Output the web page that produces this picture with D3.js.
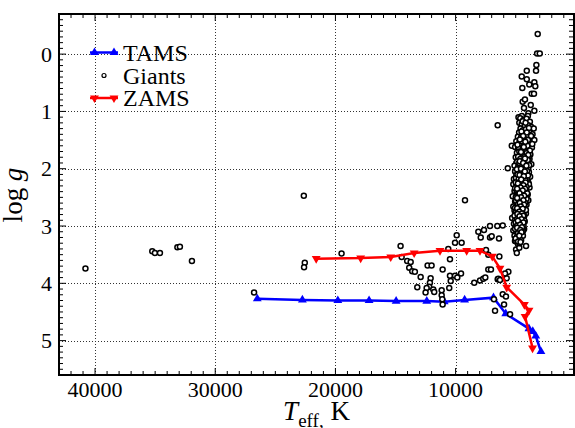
<!DOCTYPE html>
<html>
<head>
<meta charset="utf-8">
<script src="https://cdn.jsdelivr.net/npm/d3@7"></script>
<style>
  html, body { margin: 0; background: #fff; }
  svg { display: block; }
  svg text { font-family: "Liberation Serif", "Times New Roman", "Nimbus Roman", serif; }
</style>
</head>
<body>
<svg id="chart" width="575" height="428" font-family="Liberation Serif, Times New Roman, serif"></svg>
<script>
// TAMS track (Teff in K, log g)
const tamsTeff = [26500, 22750, 19800, 17200, 14950, 12400, 10950, 9250, 6850, 5830, 3900, 3580, 3330, 2900];
const tamsLogg = [4.27, 4.29, 4.30, 4.30, 4.31, 4.31, 4.32, 4.29, 4.25, 4.53, 4.79, 4.84, 4.92, 5.19];

// ZAMS track
const zamsTeff = [21600, 17900, 15400, 13450, 11300, 9080, 7970, 6950, 6310, 5750, 4280, 3890, 4220, 3600];
const zamsLogg = [3.57, 3.56, 3.54, 3.47, 3.43, 3.43, 3.43, 3.53, 3.74, 4.07, 4.37, 4.47, 4.58, 5.13];

// Giants [Teff, log g]
const giants = [
  // hot / isolated stars
  [40800, 3.74], [35240, 3.44], [35020, 3.47], [34600, 3.47], [33150, 3.37], [32940, 3.36],
  [31940, 3.61], [26770, 4.16], [22630, 2.47], [22550, 3.64], [22610, 3.72], [19490, 3.48],
  // intermediate region
  [14580, 3.35], [14490, 3.54], [14030, 3.61], [13740, 3.63], [13860, 3.73], [13610, 3.79],
  [13390, 3.80], [12330, 3.69], [12000, 3.69], [11080, 3.76], [10470, 3.58], [12910, 3.89],
  [12080, 3.91], [12140, 3.99], [12200, 4.06], [12410, 4.08], [13190, 4.07], [11860, 4.11],
  [12500, 4.16], [11780, 4.15], [11160, 4.12], [11160, 4.21], [11110, 4.28], [11080, 4.37],
  [10470, 3.87], [10050, 3.87], [9550, 3.83], [10410, 3.96], [10530, 4.08], [9860, 3.90],
  [8450, 3.99], [7970, 3.95], [7700, 3.92], [7530, 3.90], [7280, 3.76], [7060, 3.76],
  [7470, 3.42], [7280, 3.50], [6500, 3.93], [6390, 3.93], [6080, 4.19], [5810, 4.23],
  [5970, 4.37], [5470, 4.54], [6720, 4.48], [5610, 3.80], [5750, 3.91], [9220, 2.55],
  [6530, 3.00], [6080, 2.99], [8110, 3.10], [7640, 3.07], [7910, 3.20], [7140, 3.20],
  [6390, 3.22], [9910, 3.16], [10050, 3.29], [9500, 3.29], [10610, 3.40], [5060, 3.26],
  [4140, 3.35], [4970, 3.41], [4910, 3.47], [6360, 3.53], [5890, 3.83], [6450, 3.92],
  [6310, 3.94], [6810, 4.28], [7140, 3.00], [7000, 3.18], [5330, 1.60], [5660, 1.99],
  [6500, 1.24],
  // top of the giant branch
  [3170, -0.35], [3220, -0.01], [3000, -0.01], [3280, 0.19], [3310, 0.29], [4080, 0.29],
  [4500, 0.39], [4080, 0.44], [4450, 0.59], [3870, 0.53], [3450, 0.49], [3370, 0.56],
  [3670, 0.69], [3480, 0.69], [4420, 0.83], [4230, 0.79], [3750, 0.89], [4310, 0.94],
  [3450, 0.99], [3950, 1.03], [4770, 1.10], [4490, 1.08], [3990, 1.08],
  // dense branch
  [4620, 1.12], [4350, 1.15], [4100, 1.13], [3820, 1.18], [4700, 1.20], [4500, 1.22],
  [4250, 1.25], [3950, 1.24], [3700, 1.27], [3500, 1.30], [4600, 1.30], [4400, 1.33],
  [4150, 1.31], [3880, 1.35], [4720, 1.37], [4300, 1.38], [3600, 1.40], [4050, 1.42],
  [4820, 1.44], [4550, 1.45], [3760, 1.46], [4250, 1.48], [3450, 1.50], [4950, 1.52],
  [4680, 1.53], [4100, 1.55], [3880, 1.56], [4480, 1.58], [4300, 1.60], [5050, 1.62],
  [3650, 1.63], [4800, 1.65], [4050, 1.66], [4550, 1.68], [3950, 1.70], [4900, 1.72],
  [4350, 1.73], [3780, 1.75], [4650, 1.77], [4150, 1.78], [5000, 1.80], [4450, 1.81],
  [3850, 1.83], [4750, 1.85], [4250, 1.86], [4050, 1.88], [4950, 1.90], [4550, 1.91],
  [3700, 1.92], [4350, 1.94], [5100, 1.95], [4800, 1.97], [4150, 1.98], [3950, 2.00],
  [4600, 2.02], [4400, 2.03], [5050, 2.05], [3900, 2.06], [4750, 2.08], [4200, 2.09],
  [4950, 2.11], [4500, 2.12], [3800, 2.14], [4650, 2.15], [4300, 2.17], [5150, 2.18],
  [4050, 2.19], [4850, 2.21], [4450, 2.22], [3950, 2.24], [4700, 2.25], [5200, 2.27],
  [4250, 2.28], [4550, 2.30], [4950, 2.31], [3850, 2.33], [4400, 2.34], [4750, 2.36],
  [4150, 2.37], [5100, 2.39], [4600, 2.40], [4300, 2.42], [4900, 2.43], [4000, 2.45],
  [4500, 2.46], [5250, 2.48], [4700, 2.49], [4200, 2.51], [4850, 2.52], [4450, 2.54],
  [3950, 2.55], [5050, 2.57], [4650, 2.58], [4350, 2.60], [4950, 2.61], [4100, 2.63],
  [4750, 2.64], [5200, 2.66], [4500, 2.67], [4250, 2.69], [4900, 2.70], [4650, 2.72],
  [5100, 2.73], [4400, 2.75], [4800, 2.76], [4150, 2.78], [5000, 2.79], [4550, 2.81],
  [4300, 2.83], [4850, 2.84], [5300, 2.86], [4700, 2.87], [4450, 2.89], [5050, 2.90],
  [4250, 2.92], [4900, 2.93], [4600, 2.95], [5150, 2.96], [4400, 2.98], [4750, 2.99],
  [5000, 3.01], [4550, 3.03], [4300, 3.05], [4850, 3.06], [5200, 3.08], [4650, 3.10],
  [4450, 3.12], [4950, 3.13], [4750, 3.15], [5100, 3.17], [4550, 3.19], [4850, 3.21],
  [4650, 3.24], [4950, 3.27], [4800, 3.32], [4700, 3.38],
  [4480, 1.52], [4020, 1.60], [4720, 1.64], [4270, 1.70], [4580, 1.76], [3920, 1.79],
  [4380, 1.84], [4880, 1.88], [4180, 1.92], [4620, 1.96], [4320, 2.01], [4780, 2.05],
  [4080, 2.10], [4560, 2.14], [4980, 2.16], [4380, 2.20], [4120, 2.26], [4820, 2.29],
  [4280, 2.32], [4620, 2.35], [4920, 2.38], [4460, 2.41], [4160, 2.44], [4820, 2.46],
  [4340, 2.50], [4620, 2.53], [4980, 2.56], [4280, 2.57], [4540, 2.62], [4880, 2.65],
  [4360, 2.66], [4640, 2.70], [4980, 2.74], [4260, 2.74], [4560, 2.77], [4920, 2.81],
  [4640, 2.85], [4380, 2.86], [4760, 2.90], [4520, 2.93], [4820, 2.97], [4580, 3.00],
  [4380, 3.08], [4780, 3.10], [4580, 3.15], [4880, 3.18], [4680, 3.30],
  [4420, 1.17], [4180, 1.20], [3900, 1.29], [4520, 1.35], [4080, 1.37], [3720, 1.43],
  [4380, 1.43], [4650, 1.49], [3980, 1.50], [4200, 1.53], [3620, 1.57], [4850, 1.58],
  [4400, 1.64], [3820, 1.68], [4700, 1.70], [4120, 1.73], [4480, 1.74], [3960, 1.76],
  [4800, 1.79], [4300, 1.80], [4620, 1.83], [4000, 1.85], [4450, 1.87], [4700, 1.90],
  [3880, 1.94], [4500, 1.97], [4250, 1.99], [4900, 2.01], [4060, 2.04], [4500, 2.06],
  [4300, 2.07], [4850, 2.10], [3980, 2.12], [4400, 2.15], [4750, 2.18], [4200, 2.20],
  [4600, 2.22], [5000, 2.24], [3900, 2.27], [4450, 2.27], [4700, 2.30], [4100, 2.32],
  [5050, 2.34], [4500, 2.36], [4250, 2.39], [4750, 2.41], [4050, 2.43], [4600, 2.45],
  [4400, 2.48], [5000, 2.50], [4100, 2.53], [4750, 2.55], [4500, 2.58], [4200, 2.60],
  [4800, 2.62], [4450, 2.64], [5050, 2.68], [4700, 2.67], [4350, 2.71], [4850, 2.72],
  [4550, 2.74], [4150, 2.72], [4700, 2.79], [4400, 2.80], [5100, 2.82], [4900, 2.88],
  [4600, 2.89], [4300, 2.90], [5000, 2.94], [4700, 2.96], [4450, 2.95], [4900, 3.00],
  [4350, 3.00], [4700, 3.04], [5050, 3.05], [4500, 3.07], [4800, 3.12], [4600, 3.13],
  [4400, 3.17], [4750, 3.20], [5000, 3.22], [4550, 3.25], [4800, 3.27], [4600, 3.28],
  [4330, 1.62], [4560, 1.71], [4230, 1.82], [4660, 1.87], [4380, 1.90], [4110, 1.95],
  [4560, 2.00], [4240, 2.05], [4680, 2.11], [4330, 2.13], [4540, 2.19], [4180, 2.24],
  [4820, 2.26], [4360, 2.29], [4600, 2.33], [4220, 2.35], [4880, 2.35], [4420, 2.38],
  [4680, 2.43], [4300, 2.47], [4560, 2.50], [4880, 2.51], [4360, 2.55], [4660, 2.60],
  [4300, 2.63], [4580, 2.66], [4880, 2.69], [4420, 2.70], [4700, 2.75], [4480, 2.78],
  [4860, 2.79], [4380, 2.82], [4680, 2.83], [4520, 2.88], [4820, 2.91], [4360, 2.94],
  [4640, 2.98], [4480, 3.02], [4880, 3.03], [4620, 3.07], [4520, 3.11], [4700, 3.17]
];

const xMajor = [40000, 30000, 20000, 10000];
const yMajor = [0, 1, 2, 3, 4, 5];

const width = 575;
const height = 428;
const margin = { left: 59, top: 14, right: 1, bottom: 53 };
const x0 = margin.left, x1 = width - margin.right;
const y0 = margin.top, y1 = height - margin.bottom;

const svg = d3.select("#chart");

const x = d3.scaleLinear().domain([43000, 150]).range([x0, x1]);
const y = d3.scaleLinear().domain([-0.7, 5.6]).range([y0, y1]);

const xMinor = d3.range(1000, 43001, 1000);
const yMinor = d3.range(-7, 57).map(d => d / 10);

// Grid (dotted)
const grid = svg.append("g").attr("stroke", "#333").attr("stroke-width", 1).attr("stroke-dasharray", "1,2");
grid.selectAll("line.gx").data(xMajor).join("line")
  .attr("x1", d => Math.round(x(d)) + 0.5).attr("x2", d => Math.round(x(d)) + 0.5)
  .attr("y1", y0).attr("y2", y1);
grid.selectAll("line.gy").data(yMajor).join("line")
  .attr("x1", x0).attr("x2", x1)
  .attr("y1", d => Math.round(y(d)) + 0.5).attr("y2", d => Math.round(y(d)) + 0.5);

// Ticks on all four sides (inward)
const ticks = svg.append("g").attr("stroke", "#000").attr("stroke-width", 1);
const isMajorX = d => xMajor.includes(d);
const isMajorY = d => yMajor.some(m => Math.abs(m - d) < 1e-6);
ticks.selectAll("line.bx").data(xMinor).join("line")
  .attr("x1", d => x(d)).attr("x2", d => x(d))
  .attr("y1", y1).attr("y2", d => y1 - (isMajorX(d) ? 7 : 4));
ticks.selectAll("line.tx").data(xMinor).join("line")
  .attr("x1", d => x(d)).attr("x2", d => x(d))
  .attr("y1", y0).attr("y2", d => y0 + (isMajorX(d) ? 7 : 4));
ticks.selectAll("line.ly").data(yMinor).join("line")
  .attr("y1", d => y(d)).attr("y2", d => y(d))
  .attr("x1", x0).attr("x2", d => x0 + (isMajorY(d) ? 7 : 4));
ticks.selectAll("line.ry").data(yMinor).join("line")
  .attr("y1", d => y(d)).attr("y2", d => y(d))
  .attr("x1", x1 - 1).attr("x2", d => x1 - 1 - (isMajorY(d) ? 7 : 4));

// Tick labels
svg.append("g").selectAll("text").data(xMajor).join("text")
  .attr("x", d => x(d)).attr("y", 397)
  .attr("text-anchor", "middle").attr("font-size", 22)
  .text(d => d);
svg.append("g").selectAll("text").data(yMajor).join("text")
  .attr("x", 52).attr("y", d => y(d) + 7.5)
  .attr("text-anchor", "end").attr("font-size", 22)
  .text(d => d);

// Axis labels
const xl = svg.append("text").attr("x", (x0 + x1) / 2).attr("y", 420)
  .attr("text-anchor", "middle").attr("font-size", 27);
xl.append("tspan").attr("font-style", "italic").text("T");
xl.append("tspan").attr("font-size", 19).attr("dy", 7).text("eff");
xl.append("tspan").attr("font-size", 19).text(",");
xl.append("tspan").attr("dy", -7).text(" K");

const yl = svg.append("text").attr("transform", "translate(22,195) rotate(-90)")
  .attr("text-anchor", "middle").attr("font-size", 27);
yl.append("tspan").text("log ");
yl.append("tspan").attr("font-style", "italic").text("g");

// Series
const tams = tamsTeff.map((t, i) => [t, tamsLogg[i]]);
const zams = zamsTeff.map((t, i) => [t, zamsLogg[i]]);
const line = d3.line().x(d => x(d[0])).y(d => y(d[1]));
const triUp = d3.symbol().type(d3.symbolTriangle).size(34);

const plot = svg.append("g");

plot.append("path").datum(tams).attr("d", line)
  .attr("fill", "none").attr("stroke", "#0000ff").attr("stroke-width", 2.5);
plot.selectAll("path.tams").data(tams).join("path").attr("class", "tams")
  .attr("d", triUp).attr("fill", "#0000ff")
  .attr("transform", d => `translate(${x(d[0])},${y(d[1])})`);

plot.selectAll("circle").data(giants).join("circle")
  .attr("cx", d => x(d[0])).attr("cy", d => y(d[1])).attr("r", 2.5)
  .attr("fill", "#fff").attr("stroke", "#000").attr("stroke-width", 1.5);

plot.append("path").datum(zams).attr("d", line)
  .attr("fill", "none").attr("stroke", "#ff0000").attr("stroke-width", 2.5);
plot.selectAll("path.zams").data(zams).join("path").attr("class", "zams")
  .attr("d", triUp).attr("fill", "#ff0000")
  .attr("transform", d => `translate(${x(d[0])},${y(d[1])}) rotate(180)`);

// Frame
svg.append("rect").attr("x", x0).attr("y", y0)
  .attr("width", x1 - x0).attr("height", y1 - y0)
  .attr("fill", "none").attr("stroke", "#000").attr("stroke-width", 2);

// Legend
const legend = svg.append("g").attr("font-size", 24);
const legendRows = [
  { name: "TAMS", color: "#0000ff", rot: 0, y: 52.5 },
  { name: "Giants", color: null, y: 75.5 },
  { name: "ZAMS", color: "#ff0000", rot: 180, y: 98 }
];
legendRows.forEach(r => {
  if (r.color) {
    legend.append("line").attr("x1", 90).attr("x2", 118).attr("y1", r.y).attr("y2", r.y)
      .attr("stroke", r.color).attr("stroke-width", 2.5);
    [94.5, 114].forEach(px => {
      legend.append("path").attr("d", triUp).attr("fill", r.color)
        .attr("transform", `translate(${px},${r.y}) rotate(${r.rot})`);
    });
  } else {
    legend.append("circle").attr("cx", 104).attr("cy", r.y).attr("r", 2)
      .attr("fill", "#fff").attr("stroke", "#000").attr("stroke-width", 1.2);
  }
  legend.append("text").attr("x", 123).attr("y", r.y + 8).text(r.name);
});
</script>
</body>
</html>
